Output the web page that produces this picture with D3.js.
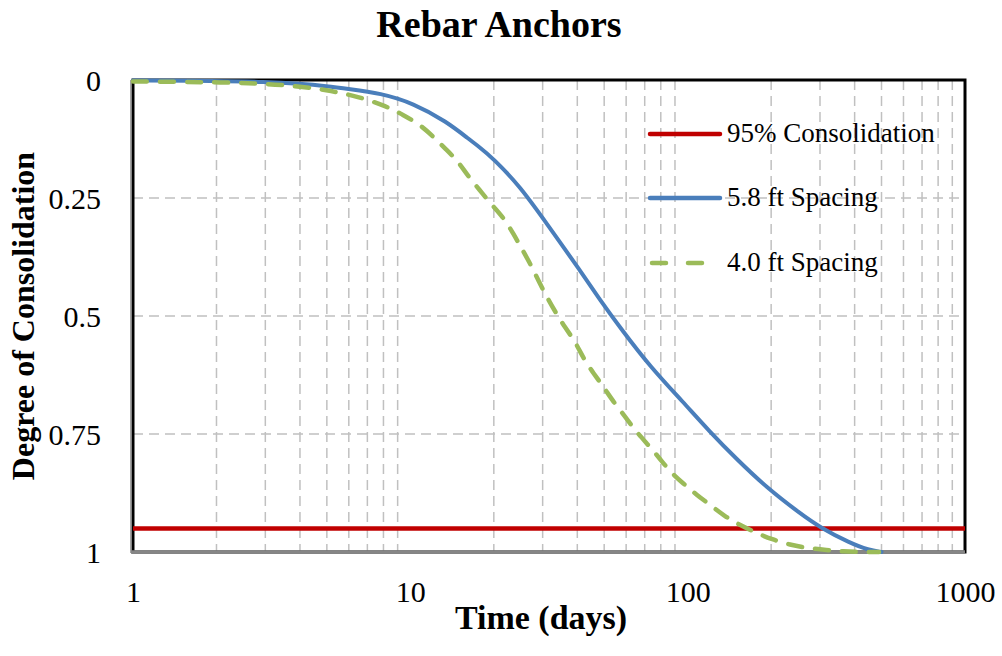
<!DOCTYPE html>
<html><head><meta charset="utf-8">
<script src="https://cdn.jsdelivr.net/npm/d3@7"></script>
<style>
html,body{margin:0;padding:0;background:#fff;}
svg{display:block;font-family:"Times New Roman","Liberation Serif",serif;}
</style></head>
<body>
<svg id="chart" width="1002" height="656"></svg>
<script>
// ---- data ----
const titleText = "Rebar Anchors";
const xLabel = "Time (days)";
const yLabel = "Degree of Consolidation";
const xTicks = [1, 10, 100, 1000];
const yTicks = [0, 0.25, 0.5, 0.75, 1];
const yTickLabels = ["0", "0.25", "0.5", "0.75", "1"];
const seriesNames = ["95% Consolidation", "5.8 ft Spacing", "4.0 ft Spacing"];
const target = 0.95;

const t58 = [1, 2, 3, 4, 5, 6, 7.8, 10.25, 13.5, 16.4, 17.4, 19.9, 24.9, 31, 40.9, 48.3, 58, 73.2, 96.5, 120, 150, 193, 254, 300, 385, 450, 500];
const u58 = [0.001, 0.002, 0.004, 0.008, 0.013, 0.019, 0.028, 0.049, 0.088, 0.127, 0.138, 0.166, 0.226, 0.304, 0.403, 0.466, 0.530, 0.607, 0.683, 0.745, 0.803, 0.864, 0.918, 0.948, 0.981, 0.996, 1.0];

const t40 = [1, 1.5, 2.06, 2.8, 3.74, 5, 6.5, 8.22, 9.44, 10.84, 11.95, 13.5, 14.9, 16.2, 17.8, 19.4, 21.6, 23.5, 25.2, 27, 28.9, 31, 33.3, 36, 39.3, 42.1, 45.7, 49.7, 54, 59.5, 64.6, 71.2, 78.4, 86.4, 96.5, 107.8, 120.4, 136.4, 154.5, 177.5, 201, 234, 272, 317, 364, 420, 490];
const u40 = [0.003, 0.004, 0.005, 0.007, 0.012, 0.021, 0.035, 0.056, 0.074, 0.095, 0.117, 0.148, 0.173, 0.205, 0.233, 0.261, 0.290, 0.325, 0.357, 0.388, 0.424, 0.459, 0.491, 0.523, 0.554, 0.590, 0.621, 0.650, 0.682, 0.713, 0.742, 0.770, 0.798, 0.830, 0.855, 0.879, 0.900, 0.925, 0.943, 0.960, 0.973, 0.985, 0.992, 0.996, 0.999, 1.0, 1.0];

// ---- layout ----
const svg = d3.select("#chart");
const L = 133, R = 965, T = 80, B = 552;
const x = d3.scaleLog().domain([1, 1000]).range([L, R]);
const y = d3.scaleLinear().domain([0, 1]).range([T, B]);

const gridColor = "#c0c0c0";
const minor = [];
[1, 10, 100].forEach(d => { for (let k = 2; k <= 9; k++) minor.push(d * k); });
svg.append("g").selectAll("line").data(minor).join("line")
  .attr("x1", d => x(d)).attr("x2", d => x(d))
  .attr("y1", T).attr("y2", B)
  .attr("stroke", gridColor).attr("stroke-width", 1.5).attr("stroke-dasharray", "10,6");
svg.append("g").selectAll("line").data([0.25, 0.5, 0.75]).join("line")
  .attr("x1", L).attr("x2", R)
  .attr("y1", d => y(d)).attr("y2", d => y(d))
  .attr("stroke", gridColor).attr("stroke-width", 1.5).attr("stroke-dasharray", "10,6");

// frame
svg.append("rect").attr("x", L).attr("y", T).attr("width", R - L).attr("height", B - T)
  .attr("fill", "none").attr("stroke", "#000").attr("stroke-width", 3);
svg.append("line").attr("x1", L - 2).attr("x2", L - 2).attr("y1", T).attr("y2", B + 1)
  .attr("stroke", "#868686").attr("stroke-width", 1.5);
svg.append("line").attr("x1", L - 2).attr("x2", R).attr("y1", B).attr("y2", B)
  .attr("stroke", "#868686").attr("stroke-width", 3.5);

// series
const line = d3.line().x(d => x(d[0])).y(d => y(d[1])).curve(d3.curveBasis);
svg.append("line").attr("x1", L).attr("x2", R).attr("y1", y(target)).attr("y2", y(target))
  .attr("stroke", "#c00000").attr("stroke-width", 4.5);
svg.append("path").datum(t58.map((t, i) => [t, u58[i]])).attr("d", line)
  .attr("fill", "none").attr("stroke", "#4a7ebb").attr("stroke-width", 4).attr("stroke-linecap", "round");
svg.append("path").datum(t40.map((t, i) => [t, u40[i]])).attr("d", line)
  .attr("fill", "none").attr("stroke", "#9bbb59").attr("stroke-width", 4.5)
  .attr("stroke-dasharray", "14,13").attr("stroke-linecap", "round");

// axes labels
const xa = d3.axisBottom(x).tickValues(xTicks).tickFormat(d3.format("d")).tickSize(0).tickPadding(0);
const gx = svg.append("g").attr("transform", `translate(0,${B})`).call(xa);
gx.select(".domain").remove();
gx.selectAll("text").attr("font-size", 30).attr("fill", "#000").attr("dy", null).attr("y", 50)
  .style("font-family", "'Times New Roman','Liberation Serif',serif");

const ya = d3.axisLeft(y).tickValues(yTicks).tickFormat((d, i) => yTickLabels[i]).tickSize(0).tickPadding(0);
const gy = svg.append("g").call(ya);
gy.select(".domain").remove();
gy.selectAll("text").attr("font-size", 30).attr("fill", "#000").attr("x", 101).attr("dy", "0.34em")
  .style("font-family", "'Times New Roman','Liberation Serif',serif");

// titles
svg.append("text").attr("x", 499).attr("y", 37).attr("text-anchor", "middle")
  .attr("font-size", 38).attr("font-weight", "bold").text(titleText);
svg.append("text").attr("x", 541).attr("y", 629).attr("text-anchor", "middle")
  .attr("font-size", 34).attr("font-weight", "bold").text(xLabel);
svg.append("text").attr("transform", "translate(34,316) rotate(-90)").attr("text-anchor", "middle")
  .attr("font-size", 32).attr("font-weight", "bold").text(yLabel);

// legend
const legY = [134, 198, 263];
const lg = svg.append("g");
lg.append("line").attr("x1", 650).attr("x2", 720).attr("y1", legY[0]).attr("y2", legY[0])
  .attr("stroke", "#c00000").attr("stroke-width", 4.5).attr("stroke-linecap", "round");
lg.append("line").attr("x1", 650).attr("x2", 720).attr("y1", legY[1]).attr("y2", legY[1])
  .attr("stroke", "#4a7ebb").attr("stroke-width", 4.5).attr("stroke-linecap", "round");
lg.append("line").attr("x1", 652).attr("x2", 720).attr("y1", legY[2]).attr("y2", legY[2])
  .attr("stroke", "#9bbb59").attr("stroke-width", 4.5).attr("stroke-dasharray", "14,22").attr("stroke-linecap", "round");
lg.selectAll("text").data(seriesNames).join("text")
  .attr("x", 727).attr("y", (d, i) => legY[i] + 8).attr("font-size", 27).text(d => d);
</script>
</body></html>
